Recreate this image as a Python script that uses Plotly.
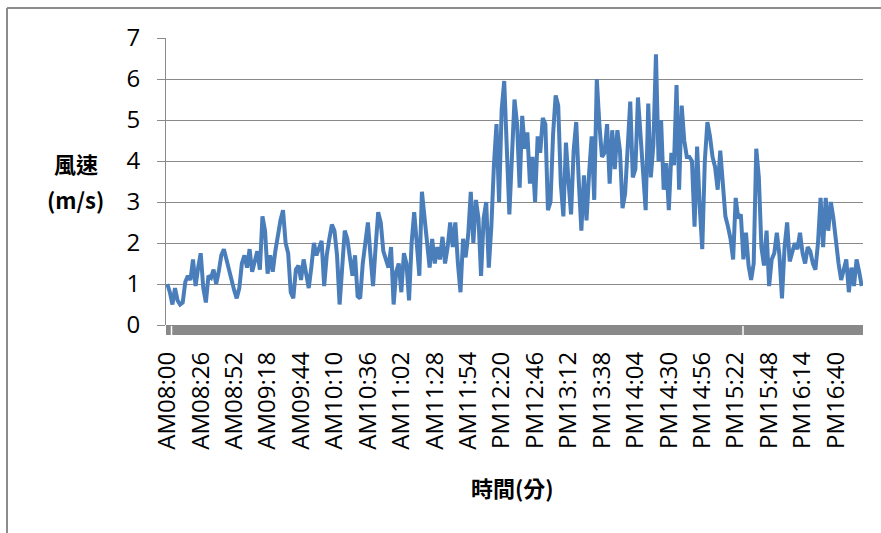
import plotly.graph_objects as go

# ---- data ----
start_minutes = 8 * 60
step_minutes = 2
wind_speed = [
    1.0, 0.8, 0.5, 0.9, 0.6, 0.5, 0.55, 1.05, 1.2, 1.1,
    1.6, 0.95, 1.4, 1.75, 0.9, 0.55, 1.2, 1.15, 1.35, 1.0,
    1.3, 1.7, 1.85, 1.6, 1.3, 1.1, 0.85, 0.65, 0.9, 1.5,
    1.7, 1.4, 1.85, 1.3, 1.6, 1.8, 1.35, 2.65, 2.3, 1.25,
    1.7, 1.3, 1.8, 2.2, 2.55, 2.8, 2.0, 1.75, 0.8, 0.65,
    1.35, 1.45, 1.1, 1.6, 1.3, 0.9, 1.4, 2.0, 1.7, 1.9,
    2.05, 0.95, 1.7, 2.1, 2.45, 2.3, 1.7, 0.5, 1.4, 2.3,
    2.1, 1.7, 1.2, 1.7, 0.7, 0.65, 1.5, 2.0, 2.5, 1.7,
    0.95, 1.9, 2.75, 2.5, 1.8, 1.6, 1.4, 1.9, 0.5, 1.3,
    1.5, 0.8, 1.75, 1.5, 0.6, 2.0, 2.75, 2.0, 1.2, 3.25,
    2.7, 2.0, 1.4, 2.1, 1.5, 1.9, 1.6, 2.15, 1.5, 1.9,
    2.5, 1.9, 2.5, 1.5, 0.8, 2.1, 1.65, 2.2, 3.25, 2.0,
    3.05, 2.6, 1.2, 2.6, 3.0, 1.4, 2.4, 3.9, 4.9, 3.0,
    5.25, 5.95, 4.0, 2.7, 4.1, 5.5, 4.9, 3.35, 5.1, 4.3,
    4.7, 3.45, 4.1, 3.0, 4.6, 4.2, 5.05, 4.9, 2.8, 3.0,
    4.65, 5.6, 5.35, 3.45, 2.65, 4.45, 3.5, 2.7, 4.25, 4.95,
    3.5, 2.3, 3.65, 2.55, 3.7, 4.6, 3.05, 6.0, 4.9, 4.1,
    4.2, 4.9, 3.45, 4.75, 3.8, 4.75, 4.25, 2.85, 3.2, 4.2,
    5.45, 3.6, 3.8, 5.55, 4.5, 3.5, 2.8, 5.4, 3.6, 4.4,
    6.6, 4.0, 5.0, 3.3, 3.95, 2.8, 4.2, 3.9, 5.85, 3.3,
    5.35, 4.5, 4.1, 4.1, 4.0, 2.4, 4.35, 2.9, 1.85, 4.0,
    4.95, 4.6, 4.1, 3.85, 3.3, 4.25, 3.5, 2.65, 2.4, 2.1,
    1.6, 3.1, 2.6, 2.7, 1.6, 2.25, 1.45, 1.1, 1.5, 4.3,
    3.6, 1.9, 1.45, 2.3, 0.95, 1.6, 1.75, 2.25, 1.7, 0.65,
    1.9, 2.5, 1.55, 1.8, 2.0, 1.85, 2.25, 1.75, 1.5, 1.9,
    1.8, 1.5, 1.35, 2.0, 3.1, 1.9, 3.1, 2.3, 3.0, 2.6,
    2.0, 1.5, 1.1, 1.4, 1.6, 0.8, 1.4, 0.95, 1.6, 1.3,
    0.95,
]
tick_labels = [
    "AM08:00", "AM08:26", "AM08:52", "AM09:18", "AM09:44", "AM10:10",
    "AM10:36", "AM11:02", "AM11:28", "AM11:54", "PM12:20", "PM12:46",
    "PM13:12", "PM13:38", "PM14:04", "PM14:30", "PM14:56", "PM15:22",
    "PM15:48", "PM16:14", "PM16:40",
]
tick_every = 13
y_title = ["風速", "(m/s)"]
x_title = "時間(分)"


def fmt(m):
    h, mm = divmod(m, 60)
    return ("AM" if h < 12 else "PM") + f"{h:02d}:{mm:02d}"


categories = [fmt(start_minutes + i * step_minutes) for i in range(len(wind_speed))]
tick_vals = [categories[i] for i in range(0, len(categories), tick_every)][: len(tick_labels)]

# ---- geometry helpers (pixels -> paper) ----
W, H = 881, 533
L, R, T, B = 166, 18, 38, 208
pw, ph = W - L - R, H - T - B


def px(x):
    return (x - L) / pw


def py(y):
    return (H - B - y) / ph


fig = go.Figure(
    go.Scatter(
        x=categories, y=wind_speed, mode="lines",
        line=dict(color="#4A7EBB", width=4), hoverinfo="skip",
    )
)

grid = "#8a8a8a"
tickfont = dict(family="Open Sans, Liberation Sans, sans-serif", size=24, color="#000")

fig.update_layout(
    width=W, height=H,
    margin=dict(l=L, r=R, t=T, b=B, pad=0, autoexpand=False),
    paper_bgcolor="white", plot_bgcolor="white",
    showlegend=False,
    xaxis=dict(
        type="category", range=[-0.5, len(categories) - 0.5],
        tickmode="array", tickvals=tick_vals, ticktext=tick_labels,
        tickangle=-90, tickfont=tickfont, showgrid=False, showline=False,
        ticks="", ticklabelstandoff=21, zeroline=False, automargin=False,
    ),
    yaxis=dict(
        range=[0, 7], dtick=1, tick0=0, showgrid=True, gridcolor=grid, gridwidth=1,
        showline=True, linecolor=grid, linewidth=1, ticks="outside", ticklen=8,
        tickcolor=grid, tickfont=tickfont, zeroline=False, ticklabelstandoff=12,
        automargin=False,
    ),
)

shapes = [
    # dense category tick band under the axis
    dict(type="rect", xref="paper", yref="paper", x0=0, x1=1, y0=py(335), y1=0,
         fillcolor="#898989", line=dict(width=0), layer="above"),
    dict(type="line", xref="paper", yref="paper", x0=px(171.5), x1=px(171.5), y0=py(335), y1=py(326),
         line=dict(color="white", width=1.5), layer="above"),
    dict(type="line", xref="paper", yref="paper", x0=px(743), x1=px(743), y0=py(335), y1=py(326),
         line=dict(color="white", width=1.5), layer="above"),
    # chart frame (left & top visible)
    dict(type="line", xref="paper", yref="paper", x0=px(7), x1=px(7), y0=py(8), y1=py(560),
         line=dict(color="#8c8c8c", width=2)),
    dict(type="line", xref="paper", yref="paper", x0=px(7), x1=px(900), y0=py(8), y1=py(8),
         line=dict(color="#8c8c8c", width=2)),
]
fig.update_layout(shapes=shapes)

title_font = dict(family="Noto Sans CJK TC, sans-serif", size=22, color="#000")
fig.add_annotation(text="<b>" + y_title[0] + "</b>", x=px(76), y=py(163), xref="paper", yref="paper",
                   showarrow=False, font=title_font, xanchor="center", yanchor="middle")
fig.add_annotation(text="<b>" + y_title[1] + "</b>", x=px(75), y=py(199), xref="paper", yref="paper",
                   showarrow=False, font=title_font, xanchor="center", yanchor="middle")
fig.add_annotation(text="<b>" + x_title + "</b>", x=px(512), y=py(487), xref="paper", yref="paper",
                   showarrow=False, font=title_font, xanchor="center", yanchor="middle")

fig.write_html(
    "out.html",
    config={"displayModeBar": False, "staticPlot": True},
    post_script="document.body.style.margin='0px';document.body.style.overflow='hidden';",
)
